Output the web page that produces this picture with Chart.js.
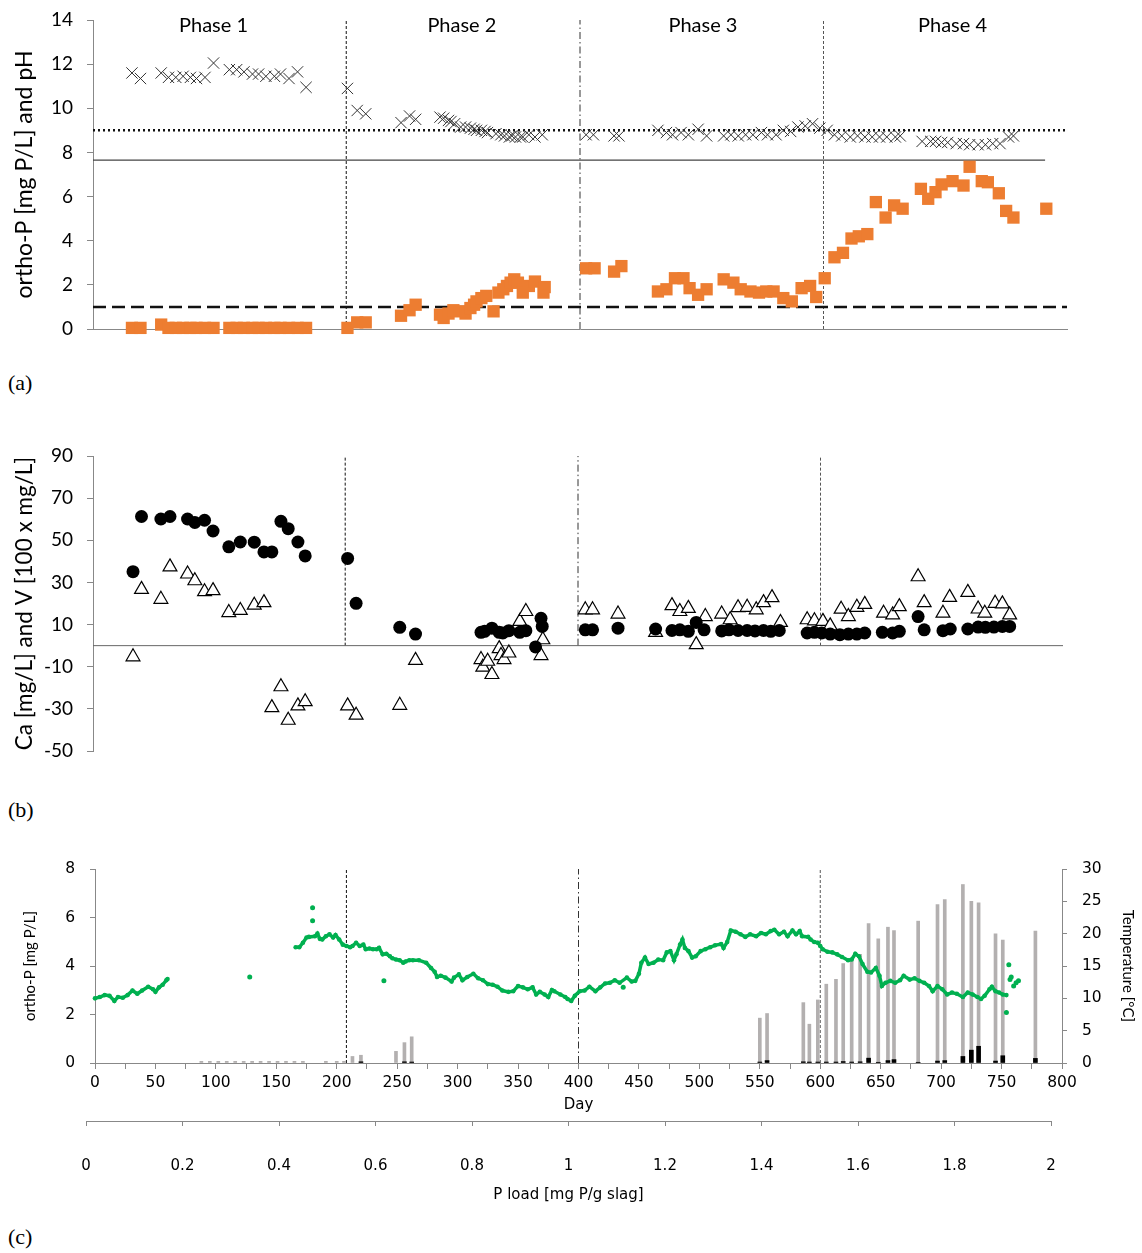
<!DOCTYPE html>
<html>
<head>
<meta charset="utf-8">
<script src="https://cdn.jsdelivr.net/npm/chart.js"></script>
<style>
  body { margin: 0; background: #fff; width: 1142px; height: 1253px; position: relative; overflow: hidden; }
  canvas { position: absolute; left: 0; }
  .tag { position: absolute; left: 8px; font: 22px "Liberation Serif", serif; color: #000; line-height: 26px; }
</style>
</head>
<body>
<canvas id="chartA" width="1142" height="345" style="top:0"></canvas>
<canvas id="chartB" width="1142" height="330" style="top:440px"></canvas>
<canvas id="chartC" width="1142" height="260" style="top:855px"></canvas>
<canvas id="chartD" width="1142" height="110" style="top:1100px"></canvas>
<div class="tag" style="top:370px">(a)</div>
<div class="tag" style="top:797px">(b)</div>
<div class="tag" style="top:1224px">(c)</div>
<script>
// phases
const phaseDays = [208, 400, 600];
const phaseNames = ['Phase 1', 'Phase 2', 'Phase 3', 'Phase 4'];
const phaseLabelDays = [99, 303, 501, 706];
const phaseLabelY = 13.75;

// panel (a): pH and ortho-P
const phDay = [32, 39, 56, 62, 68, 74, 80, 85, 92, 99, 112, 118, 124, 131, 136, 142, 149, 154, 161, 168, 175,
  209, 217, 224, 253, 260, 265, 285, 288, 292, 294, 297, 302, 306, 310, 313, 315, 319, 322, 324, 331, 335, 338, 342, 344, 347, 351, 353, 358, 363, 369,
  405, 411, 428, 432, 464, 471, 476, 483, 489, 497, 504, 518, 524, 530, 536, 542, 549, 554, 561, 567, 573, 579, 585, 591, 597,
  603, 609, 615, 622, 628, 634, 640, 646, 652, 659, 663, 681, 688, 692, 697, 702, 709, 715, 720, 727, 733, 739, 745, 752, 756];
const phVal = [11.6, 11.35, 11.6, 11.4, 11.4, 11.45, 11.4, 11.35, 11.4, 12.05, 11.75, 11.75, 11.65, 11.55, 11.55, 11.45, 11.45, 11.55, 11.35, 11.65, 10.95,
  10.9, 9.9, 9.75, 9.35, 9.65, 9.5, 9.6, 9.55, 9.45, 9.4, 9.3, 9.15, 9.15, 9.1, 9.05, 9.0, 9.0, 8.95, 8.9, 8.85, 8.8, 8.75, 8.7, 8.75, 8.7, 8.7, 8.7, 8.8, 8.7, 8.8,
  8.8, 8.8, 8.75, 8.75, 9.0, 8.9, 8.8, 8.9, 8.8, 9.05, 8.75, 8.75, 8.8, 8.75, 8.8, 8.8, 8.9, 8.8, 8.8, 9.0, 8.95, 9.15, 9.2, 9.3, 9.1,
  9.0, 8.8, 8.75, 8.7, 8.75, 8.7, 8.7, 8.7, 8.7, 8.7, 8.75, 8.5, 8.5, 8.5, 8.45, 8.45, 8.4, 8.4, 8.35, 8.35, 8.35, 8.4, 8.4, 8.7, 8.75];

const opDay = [32, 39, 56, 62, 68, 74, 80, 85, 92, 99, 112, 118, 124, 131, 136, 142, 149, 154, 161, 168, 175,
  209, 217, 224, 253, 260, 265, 285, 288, 292, 296, 301, 306, 310, 313, 315, 319, 323, 329, 333, 337, 340, 343, 346, 349, 353, 358, 363, 370, 371,
  405, 412, 428, 434, 464, 471, 478, 485, 490, 497, 504, 518, 526, 532, 540, 547, 553, 559, 567, 574, 582, 589, 594, 601,
  609, 616, 623, 629, 636, 643, 651, 658, 665, 680, 686, 692, 697, 706, 715, 720, 730, 735, 744, 750, 756, 783];
const opVal = [0.05, 0.05, 0.2, 0.05, 0.05, 0.05, 0.05, 0.05, 0.05, 0.05, 0.05, 0.05, 0.05, 0.05, 0.05, 0.05, 0.05, 0.05, 0.05, 0.05, 0.05,
  0.05, 0.3, 0.3, 0.6, 0.85, 1.1, 0.65, 0.5, 0.7, 0.85, 0.8, 0.7, 0.95, 1.1, 1.25, 1.4, 1.5, 0.8, 1.65, 1.8, 1.95, 2.1, 2.25, 2.1, 1.65, 1.95, 2.15, 1.65, 1.9,
  2.75, 2.75, 2.6, 2.85, 1.7, 1.8, 2.3, 2.3, 1.85, 1.55, 1.8, 2.25, 2.1, 1.8, 1.7, 1.65, 1.7, 1.7, 1.4, 1.25, 1.85, 1.95, 1.45, 2.3,
  3.25, 3.45, 4.1, 4.2, 4.3, 5.75, 5.05, 5.6, 5.45, 6.35, 5.9, 6.2, 6.55, 6.7, 6.5, 7.35, 6.7, 6.65, 6.15, 5.35, 5.05, 5.45];

const pHLimit = 9;
const solidLevel = 7.65;
const solidEndDay = 782;
const pLimit = 1;

// panel (b): Ca and V
const caDay = [33, 40, 56, 63.5, 78, 84, 92, 99, 112, 121.5, 133, 141, 147.5, 155, 161, 169, 175, 210, 217, 253, 266,
  320, 323, 329, 335, 338, 343, 352, 357, 365, 369.5, 370.5,
  406, 412, 433, 464, 477.5, 484, 491, 497.5, 504, 518.5, 524.5, 532, 539.5, 546, 553, 559, 566,
  589, 595, 601, 608, 616, 623, 630, 636.5, 651, 659.5, 665, 680.5, 685.5, 701, 707, 721.5, 730, 736, 743, 750, 756];
const caVal = [35.1, 61.3, 60.1, 61.3, 60.1, 58.5, 59.5, 54.4, 46.9, 49.2, 49.1, 44.5, 44.5, 59.0, 55.5, 49.2, 42.6, 41.4, 20.1, 8.7, 5.5,
  6.3, 6.8, 8.3, 6.3, 6.0, 7.1, 6.3, 7.1, -0.6, 13.0, 9.1,
  7.5, 7.5, 8.3, 7.9, 7.2, 7.5, 6.8, 11.0, 7.5, 7.0, 7.5, 7.2, 7.2, 7.0, 7.2, 6.8, 7.2,
  6.0, 6.3, 6.0, 5.5, 5.2, 5.5, 5.5, 6.0, 6.3, 6.0, 6.8, 13.8, 7.5, 7.1, 7.9, 7.9, 8.8, 8.7, 8.8, 9.1, 9.1];

const vDay = [33, 40, 56, 63.5, 78, 84, 92, 99, 112, 121.5, 133, 141, 147.5, 155, 161, 169, 175, 210, 217, 253, 266,
  320, 321.5, 325.5, 329, 335, 336.5, 339, 343, 352, 357, 369.5, 371,
  406, 412, 433, 464, 477.5, 484, 491, 497.5, 505, 518.5, 525.5, 532, 539.5, 547, 553, 560, 567,
  589, 595, 602, 608, 617, 623, 630, 636.5, 652, 659.5, 665, 680.5, 685.5, 701, 706.5, 721.5, 730, 735.5, 744, 750, 756];
const vVal = [-5.3, 26.7, 22.0, 37.4, 34.0, 30.8, 25.6, 26.1, 15.7, 16.7, 19.2, 20.4, -29.4, -19.5, -35.4, -28.6, -26.6, -28.6, -33.0, -28.3, -7.0,
  -6.6, -10.2, -7.4, -13.7, -1.4, -4.7, -6.6, -3.5, 11.5, 16.2, -4.7, 2.8,
  17.0, 17.0, 15.0, 6.3, 19.0, 16.2, 17.7, 0.5, 13.8, 15.0, 12.3, 18.0, 18.2, 17.0, 20.4, 22.8, 11.0,
  12.3, 11.8, 11.5, 9.4, 17.3, 13.8, 18.2, 19.6, 15.4, 14.6, 18.5, 32.7, 20.4, 15.4, 22.9, 25.3, 17.4, 15.4, 20.1, 19.8, 14.6];

// panel (c): ortho-P bars (left axis) and temperature (right axis)
const grayDay = [88, 95, 102, 109, 116, 123, 130, 137, 144, 151, 158, 165, 172, 191, 200, 206,
  213, 220, 249, 256, 262, 550, 556, 586, 591, 598, 605, 613, 619, 626, 633, 640, 648, 656, 661, 681, 697, 703, 718, 725, 731, 745, 751, 778];
const grayVal = [0.07, 0.07, 0.07, 0.07, 0.07, 0.07, 0.07, 0.07, 0.07, 0.07, 0.07, 0.07, 0.07, 0.07, 0.07, 0.07,
  0.27, 0.32, 0.48, 0.84, 1.08, 1.85, 2.04, 2.49, 1.6, 2.6, 3.25, 3.45, 4.1, 4.27, 4.48, 5.75, 5.12, 5.6, 5.46, 5.85, 6.53, 6.74, 7.36, 6.67, 6.6, 5.33, 5.07, 5.44];
const blackDay = [220, 256, 262, 550, 556, 586, 591, 598, 605, 613, 619, 626, 633, 640, 648, 656, 661, 681, 697, 703, 718, 725, 731, 745, 751, 778];
const blackVal = [0.05, 0.05, 0.04, 0.04, 0.1, 0.05, 0.04, 0.04, 0.04, 0.04, 0.06, 0.04, 0.05, 0.2, 0.03, 0.1, 0.14, 0.03, 0.08, 0.1, 0.27, 0.53, 0.69, 0.08, 0.3, 0.19];

const tempDayA = [0, 4, 8, 12, 16, 19, 23, 27, 31, 35, 39, 44, 48, 50, 53, 56, 59, 60];
const tempA = [10.0, 10.2, 10.5, 10.4, 9.6, 10.2, 10.1, 10.5, 11.2, 10.7, 11.2, 11.8, 11.4, 11.0, 11.7, 12.1, 12.8, 13.0];
const tempDayB = [166, 169, 172, 175, 177, 182, 184, 186, 188, 191, 194, 197, 199, 202, 205, 208, 211, 213, 216, 219,
  222, 224, 227, 230, 233, 235, 238, 241, 244, 246, 249, 252, 255, 257, 260, 263, 268, 274, 278, 281,
  283, 286, 290, 295, 297, 301, 304, 308, 313, 317, 321, 325, 329, 333, 337, 342, 346, 350, 354, 358,
  362, 365, 368, 372, 375, 378, 380, 385, 389, 391, 394, 397, 401, 405, 409, 414, 418, 422, 426, 430,
  434, 440, 444, 447, 450, 452, 455, 458, 462, 466, 470, 473, 476, 479, 481, 484, 486, 488, 491, 494,
  497, 501, 505, 509, 513, 518, 520, 523, 526, 530, 534, 538, 542, 547, 551, 555, 559, 562, 566, 570,
  573, 577, 580, 583, 585, 590, 592, 595, 598, 600, 602, 606, 610, 614, 618, 623, 626, 629, 632, 635,
  639, 642, 646, 649, 651, 654, 658, 662, 666, 669, 674, 678, 682, 686, 690, 693, 697, 701, 705, 709,
  713, 718, 722, 726, 730, 733, 736, 740, 742, 745, 748, 751, 754];
const tempB = [17.9, 17.9, 18.6, 19.4, 19.5, 19.6, 20.0, 19.2, 19.1, 19.6, 19.9, 19.4, 19.8, 19.1, 18.3, 18.1, 17.9, 18.1, 18.6, 18.1,
  18.3, 17.6, 17.7, 17.6, 17.6, 17.8, 16.8, 16.9, 16.5, 16.2, 16.0, 15.9, 15.5, 15.7, 15.9, 15.9, 15.9, 15.5, 14.7, 14.1,
  13.3, 13.5, 13.2, 12.6, 13.2, 13.7, 12.8, 13.3, 13.8, 13.1, 12.8, 12.2, 12.1, 11.8, 11.2, 11.0, 11.1, 11.9, 11.7, 11.4,
  11.7, 10.6, 11.0, 10.6, 10.2, 11.3, 11.1, 10.6, 10.2, 9.9, 9.6, 10.4, 11.1, 11.2, 11.8, 11.1, 11.7, 12.3, 12.4, 12.8,
  12.4, 13.2, 12.6, 12.7, 13.8, 15.5, 16.3, 15.3, 15.5, 16.0, 15.9, 17.1, 17.3, 15.9, 16.8, 18.3, 19.1, 17.8, 17.3, 16.3,
  16.5, 17.3, 17.6, 17.9, 18.2, 18.4, 17.8, 18.7, 20.5, 20.3, 19.9, 19.5, 19.9, 19.6, 20.1, 19.9, 20.4, 20.6, 19.9, 20.3,
  19.6, 20.5, 19.9, 20.4, 19.6, 19.5, 19.1, 18.7, 18.6, 18.1, 17.6, 17.2, 17.1, 16.8, 16.4, 15.9, 16.0, 16.9, 16.5, 15.3,
  14.1, 14.0, 14.7, 13.5, 11.9, 12.4, 12.7, 12.4, 12.8, 13.5, 12.9, 13.1, 12.7, 12.4, 11.9, 11.1, 11.9, 11.4, 10.6, 10.9,
  10.7, 10.2, 10.9, 10.6, 10.2, 9.9, 10.4, 11.4, 11.8, 11.1, 10.9, 10.6, 10.5];
const tempOutDay = [128, 180, 180, 239, 437, 754, 756, 757, 758, 760, 762, 764];
const tempOut = [13.3, 24.0, 22.0, 12.7, 11.7, 7.8, 15.2, 12.9, 13.3, 11.9, 12.4, 12.7];

// ticks
const dayTicksLabelled = 50;
const pLoadMax = 2;

Chart.defaults.font.family = 'Lato';
Chart.defaults.color = '#000';

const pts = (xs, ys) => xs.map((x, i) => ({x: x, y: ys[i]}));
const rule = (x0, x1, y0, y1, color, width, dash, axis) => ({
  type: 'scatter', data: [{x: x0, y: y0}, {x: x1, y: y1}], showLine: true,
  borderColor: color, borderWidth: width, borderDash: dash, pointRadius: 0,
  yAxisID: axis || 'y', clip: false
});
const phaseColor = ['#111', '#333', '#555'];
const phaseDash = [[3, 2], [7, 3, 1.5, 3], [3, 2]];
const phaseLines = (top, axis) => phaseDays.map((d, i) => rule(d, d, 0, top, phaseColor[i], 1, phaseDash[i], axis));
const quiet = {legend: {display: false}, tooltip: {enabled: false}};
const axisGray = '#888';

// fix an axis size and drop the label overflow padding so the plot box lands where wanted
const sizeW = w => s => { s.width = w; s.paddingTop = 0; s.paddingBottom = 0; };
const sizeH = h => s => { s.height = h; s.paddingLeft = 0; s.paddingRight = 0; };

const phaseLabelPlugin = {
  id: 'phaseLabels',
  afterDatasetsDraw(chart) {
    const {ctx, scales: {x, y}} = chart;
    ctx.save();
    ctx.font = '20px Lato';
    ctx.fillStyle = '#000';
    ctx.textAlign = 'center';
    ctx.textBaseline = 'middle';
    phaseNames.forEach((name, i) => {
      ctx.fillText(name, x.getPixelForValue(phaseLabelDays[i]), y.getPixelForValue(phaseLabelY));
    });
    ctx.restore();
  }
};

// (a)
new Chart(document.getElementById('chartA'), {
  type: 'scatter',
  data: {
    datasets: [
      {data: pts(phDay, phVal), pointStyle: 'crossRot', pointRadius: 8, pointBorderColor: '#333', pointBorderWidth: 1, clip: false},
      {data: pts(opDay, opVal), pointStyle: 'rect', pointRadius: 8.7, pointBackgroundColor: '#ED7D31', pointBorderWidth: 0, clip: false},
      rule(0, 800, pHLimit, pHLimit, '#111', 2.5, [2, 3]),
      rule(0, solidEndDay, solidLevel, solidLevel, '#444', 1.2, []),
      rule(0, 800, pLimit, pLimit, '#111', 2.6, [13, 6]),
      ...phaseLines(14)
    ]
  },
  options: {
    responsive: false, animation: false,
    layout: {padding: {top: 20, right: 75, bottom: 0, left: 0}},
    plugins: quiet,
    scales: {
      x: {type: 'linear', min: 0, max: 800, ticks: {display: false}, grid: {display: false},
          border: {color: axisGray}, afterFit: sizeH(16)},
      y: {min: 0, max: 14, ticks: {stepSize: 2, padding: 14, font: {size: 19}},
          grid: {drawOnChartArea: false, tickLength: 6, color: axisGray}, border: {color: axisGray},
          title: {display: true, text: 'ortho-P [mg P/L] and pH', font: {size: 23}, padding: {top: 11, bottom: 0}},
          afterFit: sizeW(93)}
    }
  },
  plugins: [phaseLabelPlugin]
});

// (b)
new Chart(document.getElementById('chartB'), {
  type: 'scatter',
  data: {
    datasets: [
      {data: pts(caDay, caVal), pointStyle: 'circle', pointRadius: 6.5, pointBackgroundColor: '#000', pointBorderWidth: 0, clip: false},
      {data: pts(vDay, vVal), pointStyle: 'triangle', pointRadius: 8, pointBackgroundColor: '#fff', pointBorderColor: '#000', pointBorderWidth: 1.2, clip: false},
      rule(0, 800, 0, 0, '#666', 1, []),
      ...phaseLines(90)
    ]
  },
  options: {
    responsive: false, animation: false,
    layout: {padding: {top: 16, right: 79, bottom: 19, left: 0}},
    plugins: quiet,
    scales: {
      x: {type: 'linear', min: 0, max: 800, display: false},
      y: {min: -50, max: 90, ticks: {stepSize: 20, padding: 14, font: {size: 19}},
          grid: {drawOnChartArea: false, tickLength: 6, color: axisGray}, border: {color: axisGray},
          title: {display: true, text: 'Ca [mg/L] and V [100 x mg/L]', font: {size: 22.5}, padding: {top: 11, bottom: 0}},
          afterFit: sizeW(93)}
    }
  }
});

// (c)
const green = '#00B050';
new Chart(document.getElementById('chartC'), {
  type: 'bar',
  data: {
    datasets: [
      {type: 'scatter', data: pts(tempDayA, tempA), yAxisID: 'yT', showLine: true, borderColor: green, borderWidth: 3.5,
       pointRadius: 2.3, pointBackgroundColor: green, pointBorderWidth: 0, clip: false},
      {type: 'scatter', data: pts(tempDayB, tempB), yAxisID: 'yT', showLine: true, borderColor: green, borderWidth: 3.5,
       pointRadius: 2.3, pointBackgroundColor: green, pointBorderWidth: 0, clip: false},
      {type: 'scatter', data: pts(tempOutDay, tempOut), yAxisID: 'yT', pointRadius: 2.5, pointBackgroundColor: green, pointBorderWidth: 0, clip: false},
      {type: 'bar', data: pts(blackDay, blackVal), yAxisID: 'y', backgroundColor: '#000', barThickness: 4, grouped: false},
      {type: 'bar', data: pts(grayDay, grayVal), yAxisID: 'y', backgroundColor: '#b3b0b0', barThickness: 3, grouped: false},
      ...phaseLines(8)
    ]
  },
  options: {
    responsive: false, animation: false,
    layout: {padding: {top: 14, right: 0, bottom: 0, left: 0}},
    plugins: quiet,
    scales: {
      x: {type: 'linear', min: 0, max: 800, offset: false,
          ticks: {stepSize: 25, maxTicksLimit: 50, autoSkip: false, maxRotation: 0, padding: 5,
                  font: {family: 'DejaVu Sans', size: 15.5},
                  callback: v => (v % dayTicksLabelled === 0 ? v : '')},
          grid: {drawOnChartArea: false, offset: false, tickLength: 6, color: axisGray}, border: {color: axisGray},
          title: {display: true, text: 'Day', font: {family: 'DejaVu Sans', size: 15}, padding: {top: 0, bottom: 1}},
          afterFit: sizeH(52)},
      y: {position: 'left', min: 0, max: 8, ticks: {stepSize: 2, padding: 15, font: {family: 'DejaVu Sans', size: 15.5}},
          grid: {drawOnChartArea: false, tickLength: 5, color: axisGray}, border: {color: axisGray},
          title: {display: true, text: 'ortho-P [mg P/L]', font: {size: 15}, padding: {top: 21, bottom: 0}},
          afterFit: sizeW(95)},
      yT: {position: 'right', min: 0, max: 30, ticks: {stepSize: 5, padding: 15, font: {family: 'DejaVu Sans', size: 15.5}},
           grid: {drawOnChartArea: false, tickLength: 5, color: axisGray}, border: {color: axisGray},
           title: {display: true, text: 'Temperature [°C]', font: {size: 15}, padding: {top: 5, bottom: 0}},
           afterFit: sizeW(80)}
    }
  }
});

// (c) secondary axis: P load
new Chart(document.getElementById('chartD'), {
  type: 'scatter',
  data: {datasets: []},
  options: {
    responsive: false, animation: false,
    layout: {padding: {top: 20, right: 91, bottom: 0, left: 86}},
    plugins: quiet,
    scales: {
      x: {type: 'linear', position: 'bottom', min: 0, max: pLoadMax,
          ticks: {stepSize: 0.2, padding: 31, maxRotation: 0, font: {family: 'DejaVu Sans', size: 15},
                  callback: v => String(Math.round(v * 10) / 10)},
          grid: {drawOnChartArea: false, tickLength: 5, color: axisGray}, border: {color: axisGray},
          title: {display: true, text: 'P load [mg P/g slag]', font: {family: 'DejaVu Sans', size: 15}, padding: {top: 0, bottom: 6}},
          afterFit: sizeH(89)},
      y: {display: false, min: 0, max: 1}
    }
  }
});
</script>
</body>
</html>
